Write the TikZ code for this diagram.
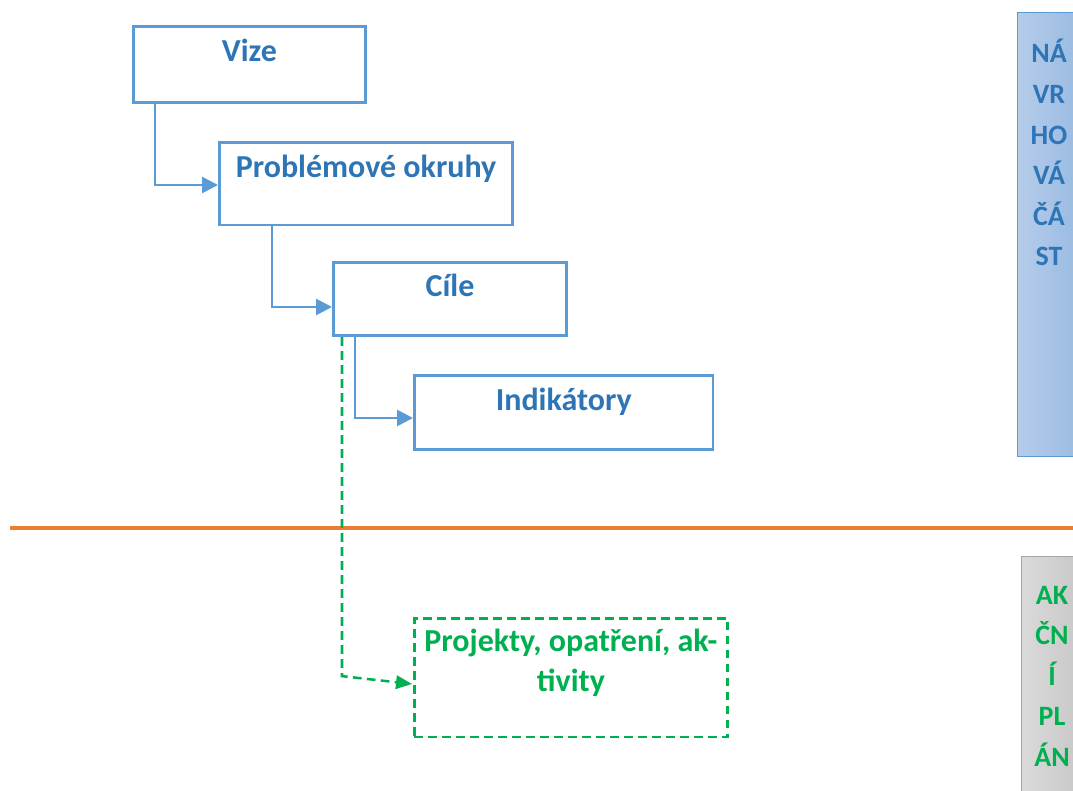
\documentclass[tikz,border=0pt]{standalone}
\usepackage{fontspec}
\setmainfont{Carlito}
\usetikzlibrary{arrows.meta,calc}
\definecolor{boxblue}{HTML}{5B9BD5}
\definecolor{txtblue}{HTML}{2E75B6}
\definecolor{okgreen}{HTML}{00B050}
\definecolor{lineorange}{HTML}{ED7D31}
\definecolor{panelL}{RGB}{182,204,234}
\definecolor{panelR}{RGB}{152,186,226}
\definecolor{grayL}{RGB}{218,218,218}
\definecolor{grayR}{RGB}{198,198,198}
\begin{document}
\begin{tikzpicture}[x=0.75pt,y=-0.75pt,
  bluebox/.style={draw=boxblue,line width=2.1pt,fill=white,inner sep=0pt},
  greenbox/.style={draw=okgreen,line width=1.9pt,dash pattern=on 6.5pt off 4pt,inner sep=0pt},
  boxtext/.style={anchor=base,inner sep=0pt,font=\fontsize{24}{30}\selectfont\bfseries},
  bluelink/.style={draw=boxblue,line width=2.1pt,-{Triangle[length=12pt,width=12pt]}},
  greenlink/.style={draw=okgreen,line width=1.9pt,dash pattern=on 6.5pt off 4pt,-{Triangle[length=12pt,width=10pt]}},
  paneltext/.style={anchor=base,inner sep=0pt,font=\fontsize{21}{24}\selectfont\bfseries}
]
\useasboundingbox (0,0) rectangle (1073,791);
% panels
\node[draw=boxblue,line width=0.9pt,left color=panelL,right color=panelR,minimum width=48pt,minimum height=333pt,anchor=north west,inner sep=0pt] (pblue) at (1017,12) {};
\foreach \t [count=\i] in {NÁ,VR,HO,VÁ,ČÁ,ST}
  \node[paneltext,text=txtblue] (pbluet\i) at (1049,{63+40.6*(\i-1)}) {\t};
\node[draw=gray!70,line width=0.9pt,left color=grayL,right color=grayR,minimum width=48pt,minimum height=190pt,anchor=north west,inner sep=0pt] (pgray) at (1021,556) {};
\foreach \t [count=\i] in {AK,ČN,Í,PL,ÁN}
  \node[paneltext,text=okgreen] (pgrayt\i) at (1052,{604+40.5*(\i-1)}) {\t};
% orange separator
\coordinate (sepL) at (10,528);
\coordinate (sepR) at (1073,528);
\draw[lineorange,line width=2.3pt] (sepL) -- (sepR);
% boxes
\node[bluebox,minimum width=174pt,minimum height=57pt,anchor=north west] (vize) at (132,25) {};
\node[bluebox,minimum width=220pt,minimum height=62pt,anchor=north west] (po) at (218,141) {};
\node[bluebox,minimum width=175pt,minimum height=55pt,anchor=north west] (cile) at (332,261) {};
\node[bluebox,minimum width=224pt,minimum height=55.5pt,anchor=north west] (ind) at (413,374) {};
\node[greenbox,minimum width=235pt,minimum height=89pt,anchor=north west] (proj) at (413,617) {};
% texts
\node[boxtext,text=txtblue] (vizet) at ($(vize.north)+(0,37)$) {Vize};
\node[boxtext,text=txtblue] (pot) at ($(po.north)+(0,37)$) {Problémové okruhy};
\node[boxtext,text=txtblue] (cilet) at ($(cile.north)+(0,35.5)$) {Cíle};
\node[boxtext,text=txtblue] (indt) at ($(ind.north)+(0,36)$) {Indikátory};
\node[boxtext,text=okgreen,align=center] (projt) at ($(proj.north)+(0,74)$) {Projekty, opatření, ak-\\tivity};
% connectors
\draw[bluelink] ($(vize.south west)+(23,0)$) |- ($(po.north west)+(0,44)$);
\draw[bluelink] ($(po.south west)+(54,0)$) |- ($(cile.north west)+(0,46)$);
\draw[bluelink] ($(cile.south west)+(23,0)$) |- ($(ind.north west)+(0,44)$);
\coordinate (gbend) at ($(cile.south west)+(10,339)$);
\draw[greenlink] ($(cile.south west)+(10,0)$) -- (gbend) -- ($(proj.north west)+(-1,67)$);
\end{tikzpicture}
\end{document}
